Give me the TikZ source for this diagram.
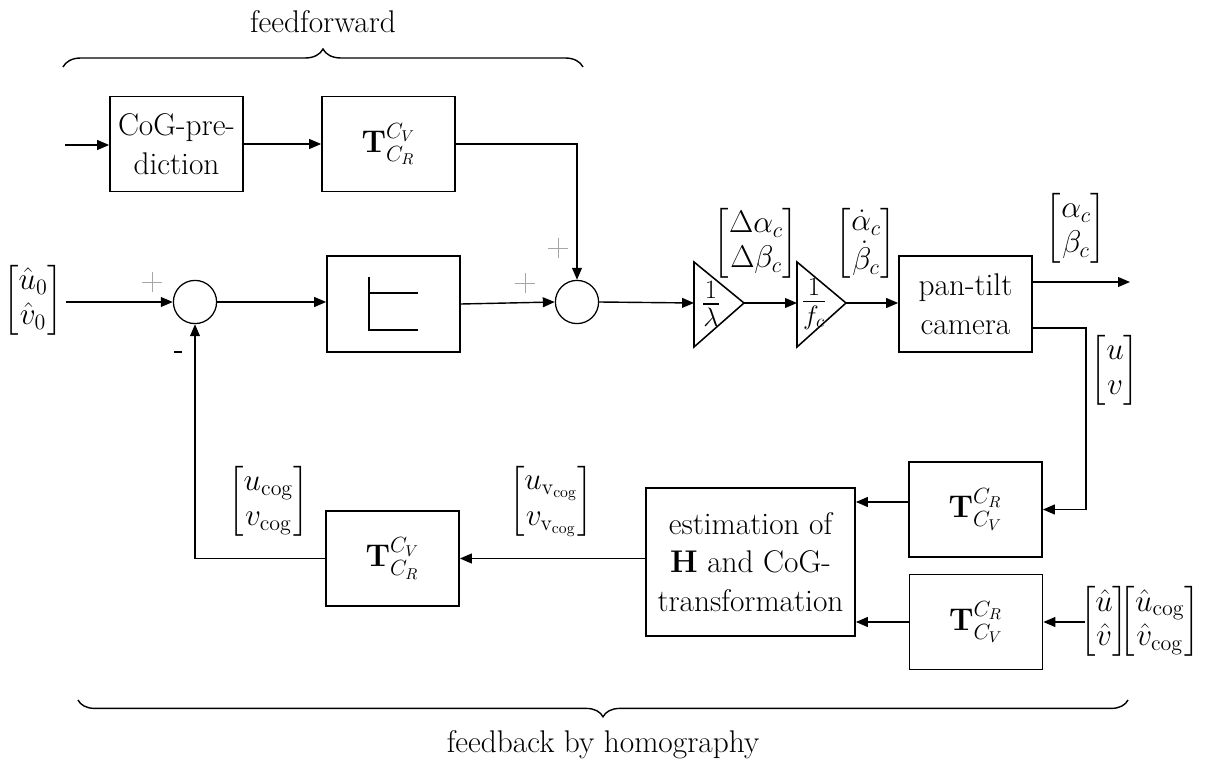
\RequirePackage{fix-cm}
\documentclass[tikz,border=0pt]{standalone}
\usepackage{amsmath}
\usetikzlibrary{arrows.meta,decorations.pathreplacing,calc}
\renewcommand{\arraystretch}{0.9}
\begin{document}
\begin{tikzpicture}[x=0.025cm,y=-0.025cm,
  every node/.style={font=\fontsize{22.3}{27.5}\selectfont, inner sep=0pt},
  blk/.style={draw, line width=1.2pt, minimum width=3.325cm, minimum height=2.375cm, align=center},
  sumc/.style={draw, circle, line width=0.9pt, minimum size=1.08cm},
  conn/.style={line width=1pt, -{Triangle[length=8.5pt,width=7pt]}},
  wire/.style={line width=1.1pt},
  gainlbl/.style={font=\fontsize{27}{30}\selectfont},
  plussign/.style={gray!70, line width=0.5pt},
  brc/.style={decorate, line width=1pt}]
\useasboundingbox (0,0) rectangle (1210,767);

% blocks
\node[blk] (cog) at (176.5,144) {CoG-pre-\\diction};
\node[blk] (tff) at (388.5,144) {$\mathbf{T}^{C_V}_{C_R}$};
\node[blk, minimum height=2.4cm] (sat) at (393.5,304) {};
\node[sumc] (s1) at (195,302) {};
\node[sumc] (s2) at (577,302) {};
\node[blk, minimum height=2.4cm] (pt) at (965.5,304) {pan-tilt\\camera};
\node[blk] (tr1) at (975.5,509.5) {$\mathbf{T}^{C_R}_{C_V}$};
\node[blk] (tr2) at (976,622) {$\mathbf{T}^{C_R}_{C_V}$};
\node[blk, minimum width=5.225cm, minimum height=3.7cm] (est) at (750.5,562) {estimation of\\$\mathbf{H}$ and CoG-\\transformation};
\node[blk] (tfb) at (392.5,558.5) {$\mathbf{T}^{C_V}_{C_R}$};

% saturation symbol
\draw[line width=0.8pt] (418,293) -- (369,293) (369,277) -- (369,330) -- (418,330);

% gain triangles
\draw[wire] (694,262) -- (744,303) -- (694,347) -- cycle;
\draw[wire] (797,262) -- (846,303) -- (797,347) -- cycle;
\coordinate (t1in) at (694,303);
\coordinate (t1out) at (744,303);
\coordinate (t2in) at (797,303);
\coordinate (t2out) at (846,303);
\node[gainlbl] (g1) at (711,304) {$\frac{1}{\lambda}$};
\node[gainlbl] (g2) at (814,304) {$\frac{1}{f_c}$};

% free ends
\coordinate (in1) at (65,145);
\coordinate (in0) at (66,302);
\coordinate (out1) at (1130,282);
\coordinate (c2) at (1086,328);
\coordinate (ey1) at (0,502);
\coordinate (in2) at (1085,622);

% connectors
\draw[conn] (in1) -- (in1 -| cog.west);
\draw[conn] (cog) -- (tff);
\draw[conn] (tff.east) -| (s2.north);
\draw[conn] (in0) -- (s1.west);
\draw[conn] (s1.east) -- (s1.east -| sat.west);
\draw[conn] (sat.east) -- (s2.west);
\draw[conn] (s2.east) -- (t1in);
\draw[conn] (t1out) -- (t2in);
\draw[conn] (t2out) -- (t2out -| pt.west);
\draw[conn] (out1 -| pt.east) -- (out1);
\draw[conn] (c2 -| pt.east) -- (c2) |- (tr1.east);
\draw[conn] (tr1.west |- ey1) -- (est.east |- ey1);
\draw[conn] (tr2.west) -- (tr2.west -| est.east);
\draw[conn] (in2) -- (in2 -| tr2.east);
\draw[conn] (est.west |- tfb.east) -- (tfb.east);
\draw[conn] (tfb.west) -| (s1.south);

% signs
\foreach \px/\py in {152/282, 525/283, 558/248}
  \draw[plussign] (\px-10,\py) -- (\px+10,\py) (\px,\py-10) -- (\px,\py+10);
\draw[line width=1.5pt] (174,352) -- (182,352);

% signal labels
\node (l0) at (33,300) {$\begin{bmatrix}\hat{u}_0\\ \hat{v}_0\end{bmatrix}$};
\node (l1) at (756,243) {$\begin{bmatrix}\Delta\alpha_c\\ \Delta\beta_c\end{bmatrix}$};
\node (l2) at (866,243) {$\begin{bmatrix}\dot{\alpha}_c\\ \dot{\beta}_c\end{bmatrix}$};
\node (l3) at (1076,228) {$\begin{bmatrix}\alpha_c\\ \beta_c\end{bmatrix}$};
\node (l4) at (1115,370) {$\begin{bmatrix}u\\ v\end{bmatrix}$};
\node (l5) at (268.5,501) {$\begin{bmatrix}u_{\mathrm{cog}}\\ v_{\mathrm{cog}}\end{bmatrix}$};
\node (l6) at (551,501) {$\begin{bmatrix}u_{\mathrm{v}_{\mathrm{cog}}}\\ v_{\mathrm{v}_{\mathrm{cog}}}\end{bmatrix}$};
\node (l7) at (1140,621.5) {$\begin{bmatrix}\hat{u}\\ \hat{v}\end{bmatrix}\mkern-8mu\begin{bmatrix}\hat{u}_{\mathrm{cog}}\\ \hat{v}_{\mathrm{cog}}\end{bmatrix}$};

% braces
\draw[brc, decoration={brace, amplitude=0.45cm}] (63,67) -- (583,67);
\node (ff) at (323,22) {feedforward};
\draw[brc, decoration={brace, amplitude=0.42cm}] (1128,700) -- (78,700);
\node (fb) at (603,745) {feedback by homography};
\end{tikzpicture}
\end{document}
